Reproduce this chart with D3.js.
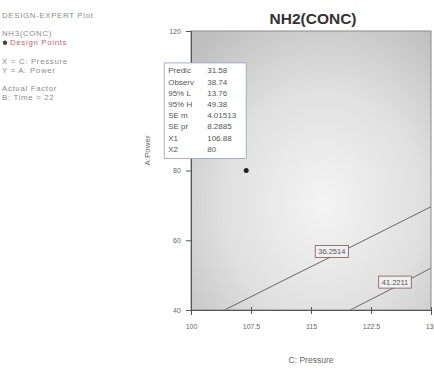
<!DOCTYPE html>
<html>
<head>
<meta charset="utf-8">
<script src="https://cdn.jsdelivr.net/npm/d3@7"></script>
<style>
  html, body { margin: 0; padding: 0; background: #fff; }
  svg { display: block; font-family: "Liberation Sans", Arial, sans-serif; }
</style>
</head>
<body>
<svg id="chart" width="434" height="372"></svg>
<script>
// ---- data ----
const xTicks = [100, 107.5, 115, 122.5, 130];
const yTicks = [40, 60, 80, 100, 120];
const xTickLabels = ["100", "107.5", "115", "122.5", "130"];
const yTickLabels = ["40", "60", "80", "100", "120"];

// contour levels and their traced paths (C: Pressure, A: Power)
const contourLevels = ["36.2514", "41.2211"];
const contourLow = [[104.2, 40], [112, 49], [120, 58.1], [130, 69.6]];
const contourHigh = [[119.9, 40], [124, 44.8], [127, 48.4], [130, 52.0]];
const contourLabelAt = [117.6, 125.5];

// design point shown in the crosshair window
const designPoint = [106.9, 80];
const infoLabels = ["Predic", "Observ", "95% L", "95% H", "SE m", "SE pr", "X1", "X2"];
const infoValues = ["31.58", "38.74", "13.76", "49.38", "4.01513", "8.2885", "106.88", "80"];

// side legend
const legendLines = ["DESIGN-EXPERT Plot", "", "NH3(CONC)", "Design Points", "", "X = C: Pressure", "Y = A: Power", "", "Actual Factor", "B: Time = 22"];

// ---- layout ----
const svg = d3.select("#chart");
const plot = { left: 191, right: 431, top: 31, bottom: 310 };

const x = d3.scaleLinear().domain([100, 130]).range([plot.left, plot.right]);
const y = d3.scaleLinear().domain([40, 120]).range([plot.bottom, plot.top]);

// background shading of the response surface
const defs = svg.append("defs");
const grad = defs.append("radialGradient")
  .attr("id", "surface").attr("cx", "0.55").attr("cy", "0.62").attr("r", "0.75");
grad.append("stop").attr("offset", "0").attr("stop-color", "#f4f4f4");
grad.append("stop").attr("offset", "0.55").attr("stop-color", "#e0e0e0");
grad.append("stop").attr("offset", "1").attr("stop-color", "#c0c0c0");

svg.append("rect")
  .attr("x", plot.left).attr("y", plot.top)
  .attr("width", plot.right - plot.left).attr("height", plot.bottom - plot.top)
  .attr("fill", "url(#surface)");

// contour lines
const line = d3.line().x(d => x(d[0])).y(d => y(d[1]));
const contours = [contourLow, contourHigh];
svg.selectAll("path.contour").data(contours).join("path")
  .attr("class", "contour")
  .attr("d", line)
  .attr("fill", "none").attr("stroke", "#6a6a6a").attr("stroke-width", 1);

// contour value labels sitting on their lines
contours.forEach((pts, i) => {
  const lx = contourLabelAt[i];
  const interp = d3.scaleLinear().domain(pts.map(p => p[0])).range(pts.map(p => p[1]));
  const ly = interp(lx);
  const g = svg.append("g").attr("transform", `translate(${x(lx)},${y(ly) - 5})`);
  const t = g.append("text").text(contourLevels[i])
    .attr("text-anchor", "middle").attr("dy", "0.35em")
    .attr("font-size", 7.5).attr("fill", "#555");
  const bb = t.node().getBBox();
  g.insert("rect", "text")
    .attr("x", bb.x - 3).attr("y", bb.y - 1.5)
    .attr("width", bb.width + 6).attr("height", bb.height + 3)
    .attr("fill", "#f0f0f0").attr("stroke", "#7a5a5a").attr("stroke-width", 0.8);
});

// frame
svg.append("rect")
  .attr("x", plot.left).attr("y", plot.top)
  .attr("width", plot.right - plot.left).attr("height", plot.bottom - plot.top)
  .attr("fill", "none").attr("stroke", "#8a8a8a").attr("stroke-width", 1);

// axes
const xAxis = d3.axisBottom(x).tickValues(xTicks).tickSize(5)
  .tickFormat((d, i) => xTickLabels[i]);
const yAxis = d3.axisLeft(y).tickValues(yTicks).tickSize(5)
  .tickFormat((d, i) => yTickLabels[i]);

const gx = svg.append("g").attr("transform", `translate(0,${plot.bottom})`).call(xAxis);
const gy = svg.append("g").attr("transform", `translate(${plot.left},0)`).call(yAxis);
[gx, gy].forEach(g => {
  g.select(".domain").attr("stroke", "#555");
  g.selectAll(".tick line").attr("stroke", "#555");
  g.selectAll(".tick text").attr("fill", "#666").attr("font-size", 7)
    .attr("font-family", "Liberation Sans, Arial, sans-serif");
});
gx.selectAll(".tick line").attr("y1", -3).attr("y2", 4);
gx.selectAll(".tick text").attr("dy", "1.6em");
gy.selectAll(".tick text").attr("dx", "-0.3em");

// axis titles
svg.append("text").text("C: Pressure")
  .attr("x", (plot.left + plot.right) / 2).attr("y", 363)
  .attr("text-anchor", "middle").attr("font-size", 8.5).attr("fill", "#666");
svg.append("text").text("A:Power")
  .attr("transform", `translate(150,${(plot.top + plot.bottom) / 2 - 20}) rotate(-90)`)
  .attr("text-anchor", "middle").attr("font-size", 8).attr("fill", "#666");

// chart title
svg.append("text").text("NH2(CONC)")
  .attr("x", (plot.left + plot.right) / 2 + 2).attr("y", 24)
  .attr("text-anchor", "middle").attr("font-size", 15.5).attr("font-weight", "bold")
  .attr("fill", "#333");

// design point
const px = x(designPoint[0]), py = y(designPoint[1]);
svg.append("circle").attr("cx", px).attr("cy", py).attr("r", 2.5).attr("fill", "#222");

// crosshair window
const boxW = 82, rowH = 11.2;
const boxH = infoLabels.length * rowH + 6;
const box = svg.append("g").attr("transform", `translate(${px - boxW},${py - 12 - boxH})`);
box.append("rect").attr("width", boxW).attr("height", boxH)
  .attr("fill", "#fff").attr("stroke", "#9a9ac0").attr("stroke-width", 0.8);
infoLabels.forEach((lab, i) => {
  box.append("text").text(lab)
    .attr("x", 4).attr("y", 10.5 + i * rowH)
    .attr("font-size", 8).attr("fill", "#555");
  box.append("text").text(infoValues[i])
    .attr("x", 43).attr("y", 10.5 + i * rowH)
    .attr("font-size", 8).attr("fill", "#555");
});

// side legend
const leg = svg.append("g").attr("transform", "translate(2,0)");
legendLines.forEach((s, i) => {
  if (!s) return;
  const isPoint = s === "Design Points";
  leg.append("text").text(s)
    .attr("x", isPoint ? 8 : 0).attr("y", 18 + i * 9.1)
    .attr("font-size", 7.8).attr("letter-spacing", 0.7)
    .attr("font-weight", "normal")
    .attr("fill", isPoint ? "#cc6070" : "#8c8c8c");
  if (isPoint) {
    leg.append("circle").attr("cx", 3).attr("cy", 18 + i * 9.1 - 2.6).attr("r", 2.2).attr("fill", "#444");
  }
});
</script>
</body>
</html>
